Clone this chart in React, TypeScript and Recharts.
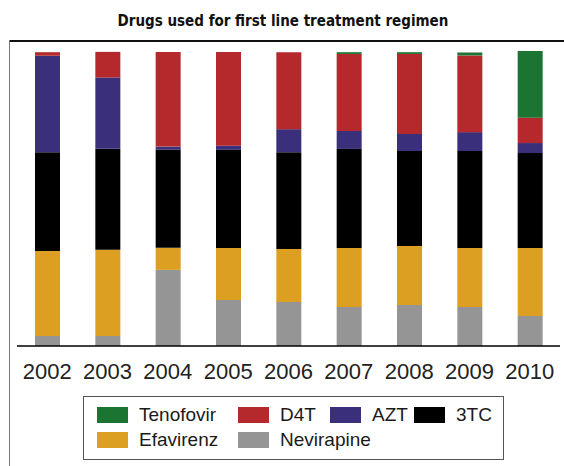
import React from 'react';
import { BarChart, Bar, XAxis, YAxis, Legend } from 'recharts';

// share of regimens (%) per year
const years = ['2002', '2003', '2004', '2005', '2006', '2007', '2008', '2009', '2010'];
const nevirapine = [3.4, 3.4, 25.8, 15.6, 14.9, 13.2, 13.9, 13.2, 10.2];
const efavirenz = [28.8, 29.2, 7.5, 17.6, 18.0, 20.0, 20.0, 20.0, 23.0];
const threeTC = [33.5, 34.3, 33.3, 33.3, 32.8, 33.6, 32.2, 32.9, 32.2];
const azt = [32.7, 24.1, 1.0, 1.4, 7.8, 6.1, 5.8, 6.4, 3.4];
const d4t = [1.2, 8.7, 32.1, 31.8, 26.1, 26.1, 27.1, 26.0, 8.6];
const tenofovir = [0, 0, 0, 0, 0, 0.6, 0.6, 1.0, 22.6];

// stacking order, bottom to top
const series = [
  { key: 'nevirapine', name: 'Nevirapine', color: '#959595', values: nevirapine },
  { key: 'efavirenz', name: 'Efavirenz', color: '#DC9F22', values: efavirenz },
  { key: 'threeTC', name: '3TC', color: '#000000', values: threeTC },
  { key: 'azt', name: 'AZT', color: '#3A2F7A', values: azt },
  { key: 'd4t', name: 'D4T', color: '#B5292C', values: d4t },
  { key: 'tenofovir', name: 'Tenofovir', color: '#1C7433', values: tenofovir },
];

// legend reading order (two rows)
const legendOrder = ['tenofovir', 'd4t', 'azt', 'threeTC', 'efavirenz', 'nevirapine'];

const chartData = years.map((year, i) => {
  const row: Record<string, string | number> = { year };
  series.forEach(s => {
    row[s.key] = s.values[i];
  });
  return row;
});

const bodyFont = "'Liberation Sans', Arial, sans-serif";

function LegendBox() {
  const items = legendOrder.map(k => series.find(s => s.key === k)!);
  return (
    <div
      style={{
        boxSizing: 'border-box',
        width: 421,
        height: 64,
        border: '1.5px solid #555',
        paddingTop: 10,
        paddingLeft: 13,
        display: 'grid',
        gridTemplateColumns: '141px 92px 84px auto',
        gridAutoRows: '25px',
        fontFamily: bodyFont,
        fontSize: 19,
        color: '#1a1a1a',
      }}
    >
      {items.map(item => (
        <div key={item.key} style={{ display: 'flex', alignItems: 'center', height: 16, whiteSpace: 'nowrap' }}>
          <span
            style={{ display: 'inline-block', flexShrink: 0, width: 31, height: 16, background: item.color, marginRight: 11 }}
          />
          <span style={{ lineHeight: '16px' }}>{item.name}</span>
        </div>
      ))}
    </div>
  );
}

export default function App() {
  return (
    <div style={{ position: 'absolute', left: 0, top: 0, width: 564, height: 466, background: '#fff' }}>
      <div
        style={{
          position: 'absolute',
          left: 0,
          top: 12,
          width: 566,
          textAlign: 'center',
          fontFamily: "'Liberation Sans Narrow', 'DejaVu Sans Condensed', sans-serif",
          fontWeight: 'bold',
          fontSize: 15,
          color: '#111',
        }}
      >
        Drugs used for first line treatment regimen
      </div>
      {/* frame */}
      <div style={{ position: 'absolute', left: 9, top: 40, width: 555, height: 1.5, background: '#111' }} />
      <div style={{ position: 'absolute', left: 8.5, top: 40, width: 1.5, height: 426, background: '#777' }} />
      <div style={{ position: 'absolute', left: 0, top: 0 }}>
        <BarChart
          width={564}
          height={466}
          data={chartData}
          margin={{ top: 51, right: 4, left: 17, bottom: 26 }}
        >
          <XAxis
            dataKey="year"
            height={30}
            tickLine={false}
            axisLine={{ stroke: '#000', strokeWidth: 1.5 }}
            tickMargin={11}
            tick={{ fill: '#222', fontSize: 22, fontFamily: bodyFont }}
            interval={0}
          />
          <YAxis hide domain={[0, 100]} />
          <Legend
            content={<LegendBox />}
            wrapperStyle={{ position: 'absolute', left: 83, top: 396, width: 421, height: 64 }}
          />
          {series.map(s => (
            <Bar
              key={s.key}
              dataKey={s.key}
              name={s.name}
              stackId="a"
              fill={s.color}
              barSize={25}
              isAnimationActive={false}
            />
          ))}
        </BarChart>
      </div>
    </div>
  );
}
